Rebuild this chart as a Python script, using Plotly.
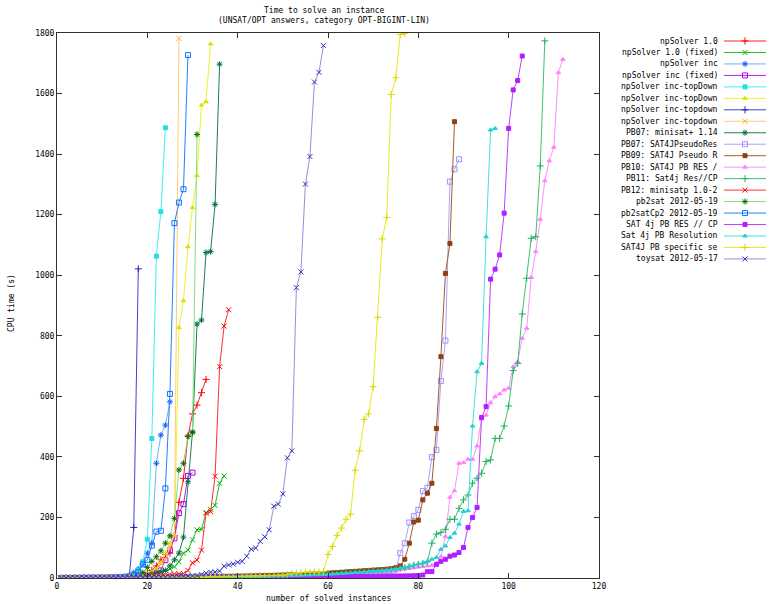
import plotly.graph_objects as go

# ---------------- data ----------------
names = [
    "npSolver 1.0", "npSolver 1.0 (fixed)", "npSolver inc", "npSolver inc (fixed)",
    "npSolver inc-topDown", "npSolver inc-topDown", "npSolver inc-topdown", "npSolver inc-topdown",
    "PB07: minisat+ 1.14", "PB07: SAT4JPseudoRes", "PB09: SAT4J Pseudo R", "PB10: SAT4J PB RES /",
    "PB11: Sat4j Res//CP", "PB12: minisatp 1.0-2", "pb2sat 2012-05-19", "pb2satCp2 2012-05-19",
    "SAT 4j PB RES // CP", "Sat 4j PB Resolution", "SAT4J PB specific se", "toysat 2012-05-17",
]

np10 = [0.1, 0.1, 0.2, 0.2, 0.3, 0.3, 0.4, 0.5, 0.6, 0.7, 0.8, 1.0, 1.2, 1.5, 1.8, 2.2, 2.8, 4, 8, 15,
        25, 40, 60, 78, 82, 140, 250, 329, 469, 542, 571, 612, 656]
np10_fixed = [0.1, 0.1, 0.1, 0.2, 0.2, 0.3, 0.3, 0.4, 0.5, 0.6, 0.7, 0.9, 1.1, 1.4, 1.8, 2.4, 3, 4, 6, 8,
              12, 16, 20, 25, 30, 37, 54, 82, 92, 126, 159, 161, 216, 227, 240, 313, 337]
np_inc = [0.1, 0.1, 0.2, 0.2, 0.3, 0.4, 0.5, 0.6, 0.8, 1.0, 1.3, 1.7, 2.2, 3, 5, 8, 18, 30, 45, 82,
          115, 379, 472, 505, 582]
np_inc_fixed = [0.1, 0.1, 0.2, 0.2, 0.3, 0.3, 0.4, 0.5, 0.6, 0.7, 0.9, 1.1, 1.4, 1.8, 2.3, 3, 4, 5, 7, 9,
                12, 15, 25, 59, 92, 131, 214, 244, 337, 348]
np_td_cyan = [0.1, 0.1, 0.2, 0.2, 0.3, 0.4, 0.5, 0.6, 0.8, 1.0, 1.3, 1.7, 2.2, 3, 3.5, 4, 8, 25, 54, 128,
              461, 1063, 1210, 1487]
np_td_yellow = [0.1, 0.1, 0.2, 0.2, 0.3, 0.3, 0.4, 0.5, 0.6, 0.7, 0.9, 1.1, 1.4, 1.8, 2.4, 3, 4, 6, 9, 14,
                20, 30, 50, 82, 115, 142, 827, 916, 1094, 1223, 1329, 1562, 1573, 1764]
np_td_blue = [0.1, 0.1, 0.2, 0.2, 0.3, 0.4, 0.5, 0.6, 0.7, 0.9, 1.1, 1.4, 1.8, 2.3, 3, 4, 167, 1021]
np_td_orange = [0.1, 0.1, 0.2, 0.2, 0.3, 0.4, 0.5, 0.6, 0.7, 0.9, 1.1, 1.4, 1.8, 2.3, 3, 4, 5, 7, 10, 15,
                22, 32, 45, 60, 103, 142, 1782]
pb07_minisat = [0.1, 0.1, 0.2, 0.2, 0.3, 0.3, 0.4, 0.5, 0.6, 0.7, 0.9, 1.1, 1.4, 1.8, 2.3, 3, 4, 5, 7, 10,
                13, 17, 20, 25, 40, 60, 82, 135, 318, 483, 839, 852, 1075, 1078, 1234, 1697]
pb07_sat4j = [0.1, 0.1, 0.1, 0.2, 0.2, 0.2, 0.3, 0.3, 0.3, 0.4,
              0.4, 0.5, 0.5, 0.6, 0.6, 0.7, 0.8, 0.9, 1.0, 1.1,
              1.2, 1.3, 1.4, 1.5, 1.6, 1.7, 1.8, 1.9, 2.0, 2.2,
              2.4, 2.6, 2.8, 3.0, 3.2, 3.4, 3.6, 3.8, 4.0, 4.3,
              4.6, 4.9, 5.2, 5.5, 5.8, 6.1, 6.4, 6.7, 7.0, 7.4,
              7.8, 8.2, 8.6, 9.0, 9.4, 9.8, 10.2, 10.6, 11, 11.5,
              12, 12.5, 13, 13.5, 14, 15, 16, 17, 18, 19,
              20, 21, 22, 24,
              28, 82, 115, 183, 205, 225, 287, 298, 399, 423, 651, 784, 1309, 1350, 1383]
pb09 = [0.1, 0.1, 0.1, 0.2, 0.2, 0.2, 0.3, 0.3, 0.4, 0.4,
        0.5, 0.5, 0.6, 0.7, 0.8, 0.9, 1.0, 1.1, 1.2, 1.3,
        1.4, 1.5, 1.6, 1.8, 2.0, 2.2, 2.4, 2.6, 2.8, 3.0,
        3.2, 3.4, 3.6, 3.9, 4.2, 4.5, 4.8, 5.1, 5.4, 5.7,
        6.0, 6.3, 6.6, 7.0, 7.4, 7.8, 8.2, 8.6, 9.0, 9.5,
        10, 10.5, 11, 11.5, 12, 12.5, 13, 14, 15, 16,
        17, 18, 19, 20, 21, 22, 23, 24, 25, 26,
        27, 28, 29, 31, 34,
        40, 62, 115, 185, 191, 258, 280, 313, 494, 731, 1006, 1105, 1507]
pb10 = [0.1, 0.1, 0.1, 0.1, 0.2, 0.2, 0.2, 0.3, 0.3, 0.3,
        0.4, 0.4, 0.5, 0.5, 0.6, 0.6, 0.7, 0.7, 0.8, 0.9,
        1.0, 1.1, 1.2, 1.3, 1.4, 1.5, 1.6, 1.7, 1.8, 2.0,
        2.2, 2.4, 2.6, 2.8, 3.0, 3.2, 3.4, 3.6, 3.8, 4.0,
        4.3, 4.6, 4.9, 5.2, 5.5, 5.8, 6.1, 6.4, 6.7, 7.0,
        7.4, 7.8, 8.2, 8.6, 9.0, 9.5, 10, 10.5, 11, 11.5,
        12, 12.5, 13, 14, 15, 16, 17, 18, 19, 20,
        21, 22, 23, 24, 26, 28, 30, 32, 34, 36,
        38, 40, 42, 48, 70, 137, 267, 288, 379, 381, 392, 392, 436, 525, 538, 579, 599, 608, 621, 627,
        698, 715, 792, 825, 993, 1078, 1185, 1312, 1378, 1423, 1669, 1713]
pb11 = [0.1, 0.1, 0.1, 0.2, 0.2, 0.2, 0.3, 0.3, 0.3, 0.4,
        0.4, 0.5, 0.5, 0.6, 0.7, 0.8, 0.9, 1.0, 1.1, 1.2,
        1.3, 1.4, 1.5, 1.6, 1.7, 1.8, 2.0, 2.2, 2.4, 2.6,
        2.8, 3.0, 3.2, 3.4, 3.6, 3.8, 4.0, 4.3, 4.6, 4.9,
        5.2, 5.5, 5.8, 6.1, 6.4, 6.7, 7.0, 7.4, 7.8, 8.2,
        8.6, 9.0, 9.5, 10, 10.5, 11, 11.5, 12, 12.5, 13,
        14, 15, 16, 17, 18, 19, 20, 21, 22, 23,
        24, 25, 26, 28, 30, 32, 34, 38, 42, 45,
        48, 54, 115, 145, 150, 161, 194, 194, 230, 258, 274, 313, 330, 346, 385, 390, 461, 461, 502, 568,
        685, 709, 872, 990, 1122, 1127, 1361, 1774]
pb12 = [0.1, 0.1, 0.2, 0.2, 0.3, 0.3, 0.4, 0.5, 0.6, 0.7, 0.9, 1.1, 1.4, 1.8, 2.3, 3, 4, 5, 6, 7,
        8, 9, 10, 11, 12, 13, 14, 15, 25, 50, 59, 92, 214, 219, 336, 698, 832, 886]
pb2sat = [0.1, 0.1, 0.2, 0.2, 0.3, 0.3, 0.4, 0.5, 0.6, 0.7, 0.9, 1.1, 1.4, 1.8, 2.3, 3, 5, 8, 18,
          35, 55, 70, 90, 115, 139, 197, 357, 379, 467, 480, 1465]
pb2satcp2 = [0.1, 0.1, 0.2, 0.2, 0.3, 0.4, 0.5, 0.6, 0.7, 0.9, 1.1, 1.4, 1.8, 2.3, 3, 5, 10,
             20, 45, 60, 107, 153, 156, 296, 608, 1172, 1240, 1284, 1727]
sat4j_rescp = [0.1, 0.1, 0.1, 0.1, 0.1, 0.2, 0.2, 0.2, 0.2, 0.3,
               0.3, 0.3, 0.4, 0.4, 0.4, 0.5, 0.5, 0.6, 0.6, 0.7,
               0.7, 0.8, 0.8, 0.9, 0.9, 1.0, 1.0, 1.1, 1.2, 1.3,
               1.4, 1.5, 1.6, 1.7, 1.8, 1.9, 2.0, 2.1, 2.2, 2.3,
               2.4, 2.5, 2.6, 2.7, 2.8, 2.9, 3.0, 3.1, 3.2, 3.3,
               3.4, 3.5, 3.6, 3.7, 3.8, 3.9, 4.0, 4.1, 4.2, 4.3,
               4.4, 4.5, 4.6, 4.7, 4.8, 4.9, 5.0, 5.2, 5.4, 5.6,
               5.8, 6.0, 6.2, 6.4, 6.6, 6.8, 7.0, 7.2, 7.5,
               8, 10, 21, 21, 45, 55, 62, 72, 76, 84, 101, 167, 200, 233, 530, 566, 987, 1020, 1067, 1205,
               1485, 1612, 1643, 1724]
sat4j_res = [0.1, 0.1, 0.1, 0.2, 0.2, 0.2, 0.3, 0.3, 0.3, 0.4,
             0.4, 0.5, 0.5, 0.6, 0.6, 0.7, 0.8, 0.9, 1.0, 1.1,
             1.2, 1.3, 1.4, 1.5, 1.6, 1.7, 1.8, 1.9, 2.0, 2.2,
             2.4, 2.6, 2.8, 3.0, 3.2, 3.4, 3.6, 3.8, 4.0, 4.3,
             4.6, 4.9, 5.2, 5.5, 5.8, 6.1, 6.4, 6.7, 7.0, 7.4,
             7.8, 8.2, 8.6, 9.0, 9.5, 10, 10.5, 11, 11.5, 12,
             13, 14, 15, 16, 17, 18, 19, 20, 21, 22,
             23, 24, 26, 28, 30, 33, 36, 40, 44, 47,
             50, 55, 62, 68, 95, 106, 134, 148, 178, 220, 222, 502, 681, 709, 1127, 1480, 1485]
sat4j_spec = [0.1, 0.1, 0.1, 0.2, 0.2, 0.2, 0.3, 0.3, 0.4, 0.4,
              0.5, 0.5, 0.6, 0.7, 0.8, 0.9, 1.0, 1.1, 1.2, 1.3,
              1.4, 1.5, 1.6, 1.7, 1.8, 2.0, 2.2, 2.4, 2.6, 2.8,
              3.0, 3.2, 3.4, 3.6, 3.8, 4.0, 4.2, 4.4, 4.6, 4.8,
              5.0, 5.3, 5.6, 6.0, 6.5, 7.0, 7.5, 8.0, 9.0, 10,
              12, 15, 17, 18, 19, 19.5, 20, 20, 21,
              78, 104, 141, 165, 194, 211, 356, 420, 524, 542, 632, 861, 1120, 1190, 1597, 1652, 1795, 1798]
toysat = [0.1, 0.1, 0.2, 0.2, 0.3, 0.3, 0.4, 0.5, 0.6, 0.7, 0.8, 0.9, 1.0, 1.2, 1.4, 1.6, 1.8, 2.0, 2.3, 2.6,
          3.0, 3.4, 3.8, 4.2, 4.6, 5.0, 5.5, 6.0, 6.5, 7.0,
          8, 12, 16, 19, 20, 23, 39, 43, 46, 52, 55, 72, 95, 99, 121, 136, 159, 237, 244, 278,
          397, 420, 959, 1011, 1301, 1392, 1638, 1670, 1759]

series = [np10, np10_fixed, np_inc, np_inc_fixed, np_td_cyan, np_td_yellow, np_td_blue, np_td_orange,
          pb07_minisat, pb07_sat4j, pb09, pb10, pb11, pb12, pb2sat, pb2satcp2,
          sat4j_rescp, sat4j_res, sat4j_spec, toysat]

x_ticks = [0, 20, 40, 60, 80, 100, 120]
y_ticks = [0, 200, 400, 600, 800, 1000, 1200, 1400, 1600, 1800]

# ---------------- styles ----------------
line_colors = ["#ff2020", "#20c020", "#70b0ff", "#b020f0", "#40f0f0", "#f0f030", "#4040d0", "#ffcc70",
               "#208050", "#b0a0ff", "#a0602a", "#ff90ff", "#40c070", "#ff3030", "#80e080", "#2080ff",
               "#c040ff", "#40e0e0", "#e8e820", "#9090e0"]
marker_colors = ["#ff0000", "#00b000", "#1060ff", "#b000f0", "#20e0e0", "#e0e000", "#2020c0", "#ffb030",
                 "#007040", "#a090ff", "#904010", "#ff80ff", "#20b060", "#ff0000", "#007000", "#1070ff",
                 "#b020ff", "#20d0d0", "#d8d800", "#3030c0"]
symbol_cycle = ["cross-thin", "x-thin", "asterisk", "square-open", "square", "triangle-up"]
size_cycle = [5, 5, 5, 5, 4, 4]

FONT = "DejaVu Sans Mono"
FS = 8
W, H = 770, 604
PL, PR, PT, PB = 57, 599, 33, 578   # plot frame in pixels

fig = go.Figure()

for i, (name, ys) in enumerate(zip(names, series)):
    sym = symbol_cycle[i % 6]
    fig.add_trace(go.Scatter(
        x=list(range(1, len(ys) + 1)), y=ys, name=name, mode="lines+markers",
        line=dict(color=line_colors[i], width=1),
        marker=dict(symbol=sym, size=size_cycle[i % 6], color=marker_colors[i],
                    line=dict(color=marker_colors[i], width=1)),
        showlegend=False, hoverinfo="skip",
    ))

# ---------------- gnuplot-like key (text on the left, sample on the right) ----------------
row0, drow = 41, 11.47
txt_right, s_left, s_right = 720, 724, 766
for i, name in enumerate(names):
    yy = row0 + i * drow
    sym = symbol_cycle[i % 6]
    fig.add_trace(go.Scatter(x=[s_left, s_right], y=[yy, yy], xaxis="x2", yaxis="y2", mode="lines",
                             line=dict(color=line_colors[i], width=1), showlegend=False, hoverinfo="skip"))
    fig.add_trace(go.Scatter(x=[(s_left + s_right) / 2], y=[yy], xaxis="x2", yaxis="y2", mode="markers",
                             marker=dict(symbol=sym, size=size_cycle[i % 6], color=marker_colors[i],
                                         line=dict(color=marker_colors[i], width=1)),
                             showlegend=False, hoverinfo="skip"))
    fig.add_annotation(x=txt_right, y=yy, xref="x2", yref="y2", text=name, showarrow=False,
                       xanchor="right", yanchor="middle", font=dict(family=FONT, size=FS, color="black"))

# titles / axis labels
cx = (PL + PR) / 2
def label(x, y, text, angle=0):
    fig.add_annotation(x=x, y=y, xref="x2", yref="y2", text=text, showarrow=False, textangle=angle,
                       xanchor="center", yanchor="middle", font=dict(family=FONT, size=FS, color="black"))

label(cx - 4, 10, "Time to solve an instance")
label(cx - 4, 20, "(UNSAT/OPT answers, category OPT-BIGINT-LIN)")
label(cx, 598, "number of solved instances")
label(11, 303, "CPU time (s)", -90)

axis_common = dict(showgrid=False, zeroline=False, showline=True, linecolor="#303030", linewidth=1,
                   mirror="ticks", ticks="inside", ticklen=5, tickcolor="#303030",
                   tickfont=dict(family=FONT, size=FS, color="black"), automargin=False, fixedrange=True)

fig.update_layout(
    width=W, height=H,
    margin=dict(l=0, r=0, t=0, b=0),
    paper_bgcolor="white", plot_bgcolor="rgba(0,0,0,0)",
    showlegend=False,
    xaxis=dict(domain=[PL / W, PR / W], range=[0, 120], tickvals=x_ticks, **axis_common),
    yaxis=dict(domain=[(H - PB) / H, (H - PT) / H], range=[0, 1800], tickvals=y_ticks, **axis_common),
    xaxis2=dict(domain=[0, 1], range=[0, W], visible=False, anchor="y2", fixedrange=True),
    yaxis2=dict(domain=[0, 1], range=[H, 0], visible=False, anchor="x2", fixedrange=True),
)

# remove the browser's default 8px page margin so the figure fills the window exactly
fig.write_html("out.html", config={"displayModeBar": False, "staticPlot": True},
               post_script="document.body.style.margin='0';document.body.style.overflow='hidden';")
